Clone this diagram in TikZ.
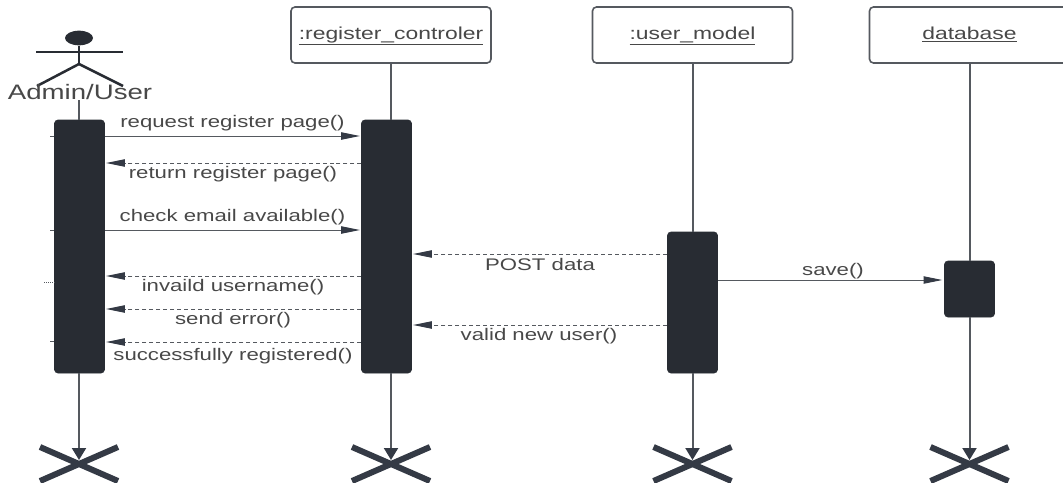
\documentclass[tikz,border=0pt]{standalone}
\usepackage{fontspec}
\setmainfont{Liberation Sans}
\newfontfamily\wideface[FakeStretch=1.32]{Liberation Sans}
\usetikzlibrary{arrows.meta,shapes.geometric}
\definecolor{ink}{HTML}{282C33}
\definecolor{crossink}{HTML}{343A45}
\definecolor{line}{HTML}{55595F}
\definecolor{txt}{HTML}{484848}
\tikzset{
  x=0.75pt,y=-0.75pt,
  bar/.style={fill=ink,draw=ink,rounded corners=2.5pt,inner sep=0pt,minimum width=37.5pt},
  objbox/.style={draw=line,line width=1.2pt,fill=white,rounded corners=3pt,inner sep=0pt,minimum width=150pt,minimum height=42pt},
  objlabel/.style={text=txt,font=\wideface\fontsize{13}{15}\selectfont,inner sep=0pt,anchor=base},
  msg/.style={text=txt,font=\wideface\fontsize{12.6}{14}\selectfont,inner sep=0pt,anchor=base},
  life/.style={draw=line,line width=1.5pt},
  lifeend/.style={life,shorten >=3pt,-{Triangle[length=9pt,width=10.5pt,color=crossink]}},
  call/.style={draw=line,line width=0.7pt,-{Triangle[length=14pt,width=5.5pt,color=crossink]}},
  ret/.style={call,dash pattern=on 3pt off 2.2pt},
  crossmark/.style={draw=crossink,line width=4.5pt},
  stick/.style={draw=ink,line width=1.9pt},
  stub/.style={draw=line,line width=0.5pt},
}
\begin{document}
\begin{tikzpicture}
\useasboundingbox (0,0) rectangle (1063,482);
% object boxes
\node[objbox] (obj2) at (391,35) {};
\node[objbox] (obj3) at (692.5,35) {};
\node[objbox] (obj4) at (969.5,35) {};
\node[objlabel] (l2) at (391,39) {\underline{:register\_controler}};
\node[objlabel] (l3) at (692.5,39) {\underline{:user\_model}};
\node[objlabel] (l4) at (969.5,39) {\underline{database}};
% actor
\node[fill=ink,ellipse,minimum width=21pt,minimum height=11pt,inner sep=0pt] (head) at (79,38) {};
\coordinate (neck) at (79,45);
\coordinate (hip) at (79,64);
\coordinate (armL) at (36,52);
\coordinate (armR) at (123,52);
\coordinate (legL) at (37,86);
\coordinate (legR) at (123,86);
\draw[stick] (head.south) -- (hip);
\draw[stick] (armL) -- (armR);
\draw[stick] (legL) -- (hip) -- (legR);
\node[text=txt,font=\wideface\fontsize{15.7}{18}\selectfont,inner sep=0pt,anchor=base] (actor) at (80,99) {Admin/User};
% activation bars
\node[bar,minimum height=189.75pt] (a1) at (79.5,246.5) {};
\node[bar,minimum height=189.75pt] (a2) at (386.5,246.5) {};
\node[bar,minimum height=105.75pt] (a3) at (692.5,302.5) {};
\node[bar,minimum height=42pt] (a4) at (969.5,289) {};
% end crosses
\foreach \n/\cx in {x1/79,x2/391,x3/692.5,x4/969.5}{
  \coordinate (\n) at (\cx,464);
  \coordinate (\n nw) at (\cx-39,447);
  \coordinate (\n se) at (\cx+39,481);
  \coordinate (\n ne) at (\cx+39,447);
  \coordinate (\n sw) at (\cx-39,481);
  \draw[crossmark] (\n nw) -- (\n se);
  \draw[crossmark] (\n ne) -- (\n sw);
}
% lifelines
\coordinate (t1) at (79,100);
\coordinate (t1b) at (79,120);
\draw[life] (t1) -- (t1b);
\draw[life] (obj2.south) -- (391,120);
\draw[life] (obj3.south) -- (a3.north);
\draw[life] (obj4.south) -- (a4.north);
\draw[lifeend] (79,373) -- (x1);
\draw[lifeend] (391,373) -- (x2);
\draw[lifeend] (a3.south) -- (x3);
\draw[lifeend] (a4.south) -- (x4);
% messages
\draw[call] (a1.east |- 0,136) -- ([xshift=-1pt]a2.west |- 0,136);
\draw[ret]  (a2.west |- 0,163) -- ([xshift=1pt]a1.east |- 0,163);
\draw[call] (a1.east |- 0,230) -- ([xshift=-1pt]a2.west |- 0,230);
\draw[ret]  (a2.west |- 0,276) -- ([xshift=1pt]a1.east |- 0,276);
\draw[ret]  (a2.west |- 0,309) -- ([xshift=1pt]a1.east |- 0,309);
\draw[ret]  (a2.west |- 0,342) -- ([xshift=1pt]a1.east |- 0,342);
\draw[ret]  (a3.west |- 0,254) -- ([xshift=1pt]a2.east |- 0,254);
\draw[ret]  (a3.west |- 0,325) -- ([xshift=1pt]a2.east |- 0,325);
\draw[call] (a3.east |- 0,280) -- ([xshift=-1.5pt]a4.west |- 0,280);
% stubs
\coordinate (s1) at (50,136); \draw[stub] (s1) -- (a1.west |- s1);
\coordinate (s2) at (50,230); \draw[stub] (s2) -- (a1.west |- s2);
\coordinate (s3) at (44,282); \draw[stub,densely dotted] (s3) -- (a1.west |- s3);
\coordinate (s4) at (50,341); \draw[stub] (s4) -- (a1.west |- s4);
% labels
\node[msg] (m1) at (232.5,127) {request register page()};
\node[msg] (m2) at (233,178) {return register page()};
\node[msg] (m3) at (232.5,221) {check email available()};
\node[msg] (m4) at (233,291) {invaild username()};
\node[msg] (m5) at (233,324) {send error()};
\node[msg] (m6) at (233,360) {successfully registered()};
\node[msg] (m7) at (540,270) {POST data};
\node[msg] (m8) at (539,340) {valid new user()};
\node[msg] (m9) at (833,275) {save()};
\end{tikzpicture}
\end{document}
